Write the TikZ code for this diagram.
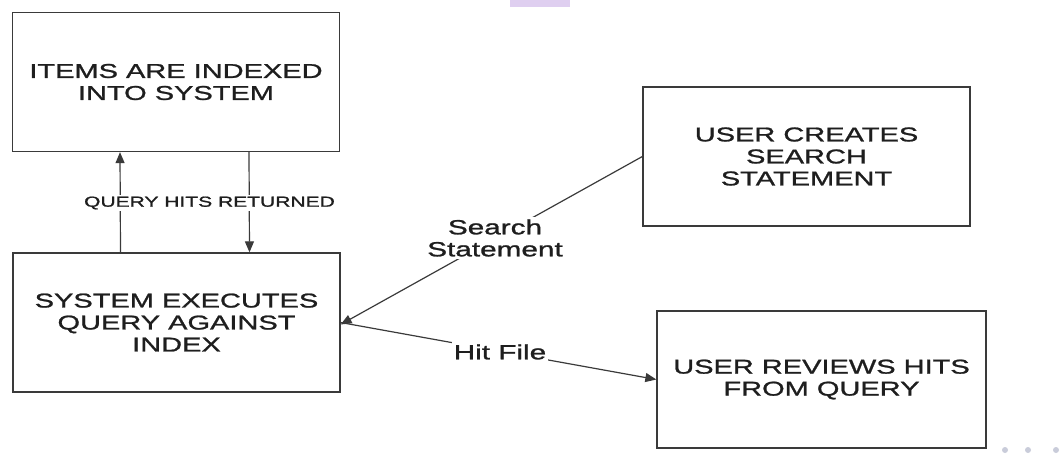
\documentclass[tikz,border=0pt]{standalone}
\usepackage{fontspec}
\newfontfamily\diag[FakeStretch=1.45,FakeBold=1.2]{Liberation Sans}
\usetikzlibrary{arrows.meta}
\definecolor{edge}{HTML}{3A3A3A}
\definecolor{ink}{HTML}{1E1E1E}
\definecolor{wmpurple}{HTML}{DFCFF0}
\definecolor{wmdot}{HTML}{C9CCDA}
\begin{document}
\begin{tikzpicture}[x=1pt,y=-1pt,
  box/.style={draw=edge, line width=1.3pt, minimum width=327pt, minimum height=139pt,
    inner sep=0pt, align=center, text=ink, font=\diag\fontsize{20}{22}\selectfont},
  arr/.style={draw=edge, line width=1.2pt, -{Triangle[length=11pt,width=9pt]}},
  lbl/.style={fill=white, inner sep=2pt, text=ink, align=center},
]
\useasboundingbox (0,0) rectangle (1060,458);
\fill[wmpurple] (510,0) rectangle (570,7);
\fill[wmdot] (1005,450) circle (3pt);
\fill[wmdot] (1028,450) circle (3pt);
\fill[wmdot] (1056,450) circle (3pt);

\node[box] (items) at (176,82) {ITEMS ARE INDEXED\\INTO SYSTEM};
\node[box] (exec) at (176.5,322.5) {SYSTEM EXECUTES\\QUERY AGAINST\\INDEX};
\node[box] (create) at (806.5,156.5) {USER CREATES\\SEARCH\\STATEMENT};
\node[box, minimum width=329pt, minimum height=137pt] (review) at (821.5,379.5) {USER REVIEWS HITS\\FROM QUERY};

\draw[arr] ([xshift=-56pt]exec.north) -- ([xshift=-56pt]items.south);
\draw[arr] ([xshift=73pt]items.south) -- ([xshift=73pt]exec.north);
\node[lbl, font=\diag\fontsize{14.5}{16}\selectfont] (qhr) at (209.5,203) {QUERY HITS RETURNED};

\draw[arr] (create.west) -- ([yshift=-2pt]exec.east);
\draw[arr] (exec.east) -- (review.west);
\node[lbl, font=\diag\fontsize{20.5}{22}\selectfont] (ss) at (495,238) {Search\\Statement};
\node[lbl, font=\diag\fontsize{20.5}{22}\selectfont] (hf) at (500,352) {Hit File};
\end{tikzpicture}
\end{document}
